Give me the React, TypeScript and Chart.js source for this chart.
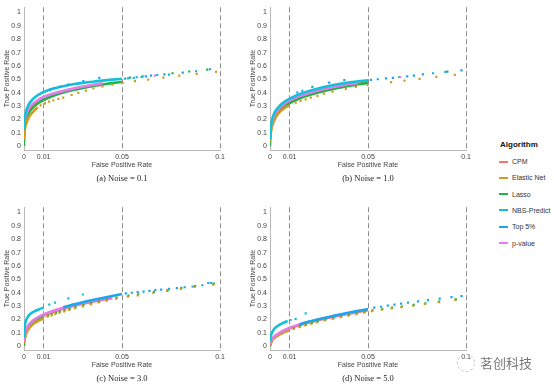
import React, { useEffect, useRef } from "react";
import { Chart, registerables } from "chart.js";
Chart.register(...registerables);

type P = [number, number][];

const ALGORITHMS = ["CPM", "Elastic Net", "Lasso", "NBS-Predict", "Top 5%", "p-value"];
const COLORS = ["#F8766D", "#D19C1D", "#1FB34A", "#13C1D6", "#1BA6F2", "#E47BEA"];
const X_TICKS = [0, 0.01, 0.05, 0.1];
const Y_TICKS = [0, 0.1, 0.2, 0.3, 0.4, 0.5, 0.6, 0.7, 0.8, 0.9, 1];
const CAPTIONS = ["(a) Noise = 0.1", "(b) Noise = 1.0", "(c) Noise = 3.0", "(d) Noise = 5.0"];
const X_TITLE = "False Positive Rate";
const Y_TITLE = "True Positive Rate";
const LEGEND_TITLE = "Algorithm";
const WATERMARK = "茗创科技";

// ---------- Panel (a) Noise = 0.1 ----------
const a_cpm_line: P = [[0,0.1],[0.0005,0.18],[0.001,0.215],[0.002,0.255],[0.003,0.28],[0.005,0.312],[0.0075,0.338],[0.01,0.357],[0.015,0.384],[0.02,0.404],[0.025,0.422],[0.03,0.437],[0.035,0.45],[0.04,0.461]];
const a_en_line: P = [[0,0.05],[0.0005,0.13],[0.001,0.16],[0.002,0.2],[0.003,0.228],[0.005,0.262],[0.007,0.29]];
const a_en_dots: P = [[0.0085,0.305],[0.0107,0.32],[0.0128,0.332],[0.015,0.342],[0.0175,0.352],[0.02,0.362],[0.0243,0.382],[0.0277,0.398],[0.0316,0.415],[0.0354,0.432],[0.04,0.447],[0.045,0.46],[0.0503,0.473],[0.0566,0.486],[0.0634,0.498],[0.0711,0.513],[0.0792,0.527],[0.0881,0.54],[0.098,0.555]];
const a_lasso_line: P = [[0,0],[0,0.03],[0.0002,0.1],[0.0005,0.15],[0.001,0.19],[0.002,0.233],[0.003,0.26],[0.005,0.295],[0.0075,0.324],[0.01,0.345],[0.015,0.376],[0.02,0.4],[0.025,0.419],[0.03,0.435],[0.035,0.449],[0.04,0.461],[0.045,0.471],[0.05,0.48]];
const a_lasso_dots: P = [[0.054,0.512],[0.0605,0.522],[0.0758,0.545],[0.0843,0.558],[0.0935,0.572]];
const a_nbs_line: P = [[0,0.12],[0.0003,0.2],[0.001,0.26],[0.002,0.3],[0.003,0.325],[0.005,0.358],[0.0075,0.385],[0.01,0.405],[0.015,0.43],[0.02,0.448],[0.025,0.462],[0.03,0.473],[0.035,0.482],[0.04,0.49],[0.045,0.497],[0.05,0.503]];
const a_nbs_dots: P = [[0.053,0.507],[0.056,0.511],[0.06,0.516],[0.074,0.535]];
const a_top5_line: P = [];
const a_top5_dots: P = [[0.0132,0.42],[0.0155,0.433],[0.0184,0.445],[0.0226,0.46],[0.0303,0.486],[0.0384,0.511],[0.0515,0.505],[0.0575,0.515],[0.0622,0.522],[0.0648,0.527],[0.068,0.532],[0.0716,0.537],[0.081,0.55],[0.0878,0.56],[0.0949,0.575]];
const a_pval_line: P = [[0,0.13],[0.0005,0.2],[0.001,0.232],[0.002,0.268],[0.003,0.292],[0.005,0.323],[0.0075,0.348],[0.01,0.367],[0.015,0.393],[0.02,0.413],[0.025,0.43],[0.03,0.445],[0.035,0.458],[0.04,0.469]];
const a_pval_dots: P = [[0.0668,0.527]];

// ---------- Panel (b) Noise = 1.0 ----------
const b_cpm_line: P = [[0,0.06],[0.0005,0.14],[0.001,0.175],[0.002,0.215],[0.003,0.243],[0.005,0.28],[0.0075,0.31],[0.01,0.332],[0.015,0.364],[0.02,0.39],[0.025,0.41],[0.03,0.427],[0.035,0.442],[0.04,0.455],[0.045,0.467],[0.05,0.478]];
const b_en_line: P = [[0,0.03],[0.0005,0.11],[0.001,0.145],[0.002,0.185],[0.003,0.215],[0.005,0.255],[0.0075,0.285],[0.01,0.305]];
const b_en_dots: P = [[0.0131,0.325],[0.0156,0.338],[0.0182,0.35],[0.0208,0.362],[0.0242,0.376],[0.0276,0.392],[0.0319,0.408],[0.0387,0.428],[0.0438,0.442],[0.0498,0.455],[0.0618,0.478],[0.0686,0.49],[0.0763,0.503],[0.0849,0.518],[0.0943,0.533]];
const b_lasso_line: P = [[0,0],[0,0.04],[0.0003,0.1],[0.001,0.155],[0.002,0.2],[0.003,0.23],[0.005,0.268],[0.0075,0.3],[0.01,0.322],[0.015,0.356],[0.02,0.382],[0.025,0.403],[0.03,0.42],[0.035,0.436],[0.04,0.45],[0.045,0.462],[0.05,0.473]];
const b_lasso_dots: P = [[0.066,0.517],[0.0905,0.557]];
const b_nbs_line: P = [[0,0.05],[0.0003,0.13],[0.001,0.195],[0.002,0.24],[0.003,0.268],[0.005,0.303],[0.0075,0.333],[0.01,0.355],[0.015,0.388],[0.02,0.413],[0.025,0.433],[0.03,0.45],[0.035,0.464],[0.04,0.476],[0.045,0.485],[0.05,0.493]];
const b_nbs_dots: P = [];
const b_top5_line: P = [];
const b_top5_dots: P = [[0.0139,0.401],[0.0165,0.414],[0.0216,0.443],[0.0302,0.475],[0.0379,0.493],[0.0515,0.496],[0.055,0.5],[0.0592,0.506],[0.0627,0.511],[0.07,0.521],[0.0734,0.528],[0.078,0.537],[0.0832,0.545],[0.0895,0.555],[0.0977,0.567]];
const b_pval_line: P = [[0,0.08],[0.0005,0.15],[0.001,0.183],[0.002,0.222],[0.003,0.25],[0.005,0.287],[0.0075,0.317],[0.01,0.34],[0.015,0.372],[0.02,0.397],[0.025,0.417],[0.03,0.434],[0.035,0.449],[0.04,0.462],[0.045,0.473]];
const b_pval_dots: P = [[0.0665,0.515]];

// ---------- Panel (c) Noise = 3.0 ----------
const c_cpm_line: P = [[0,0.03],[0.0005,0.08],[0.001,0.11],[0.002,0.14],[0.003,0.16],[0.005,0.187],[0.0075,0.21],[0.01,0.228],[0.015,0.257],[0.02,0.28],[0.025,0.3],[0.03,0.317],[0.035,0.332],[0.04,0.346],[0.045,0.358]];
const c_en_line: P = [[0,0.02],[0.0005,0.06],[0.001,0.09],[0.002,0.12],[0.003,0.14],[0.005,0.168],[0.0075,0.19],[0.01,0.208]];
const c_en_dots: P = [[0.012,0.22],[0.014,0.23],[0.016,0.24],[0.018,0.25],[0.0205,0.26],[0.023,0.27],[0.026,0.283],[0.03,0.297],[0.034,0.312],[0.038,0.326],[0.042,0.34],[0.047,0.355],[0.053,0.37],[0.058,0.38],[0.066,0.398],[0.073,0.412],[0.08,0.428],[0.087,0.442],[0.0965,0.46]];
const c_lasso_line: P = [[0,0],[0,0.04],[0.0005,0.07],[0.001,0.1],[0.002,0.13],[0.003,0.152],[0.005,0.18],[0.0075,0.203],[0.01,0.222]];
const c_lasso_dots: P = [[0.0123,0.228],[0.0143,0.238],[0.0163,0.248],[0.0183,0.258],[0.0208,0.268],[0.0233,0.278],[0.0263,0.29],[0.0303,0.305],[0.0343,0.32],[0.0383,0.333],[0.0423,0.347],[0.0473,0.362],[0.0533,0.377],[0.0583,0.387],[0.0663,0.405],[0.0733,0.418],[0.0803,0.435],[0.0873,0.448],[0.0968,0.468]];
const c_nbs_line: P = [[0,0.06],[0.0003,0.14],[0.001,0.19],[0.002,0.22],[0.003,0.238],[0.005,0.258],[0.0075,0.274],[0.01,0.287]];
const c_nbs_dots: P = [[0.0129,0.31],[0.0158,0.325],[0.0226,0.357],[0.03,0.386]];
const c_top5_line: P = [[0.02,0.29],[0.025,0.31],[0.03,0.328],[0.035,0.345],[0.04,0.36],[0.045,0.375],[0.05,0.39]];
const c_top5_dots: P = [[0.052,0.394],[0.055,0.399],[0.058,0.404],[0.061,0.408],[0.064,0.413],[0.067,0.418],[0.07,0.423],[0.074,0.428],[0.078,0.434],[0.082,0.44],[0.086,0.446],[0.091,0.455],[0.094,0.472],[0.0955,0.472]];
const c_pval_line: P = [[0,0.04],[0.0005,0.09],[0.001,0.12],[0.002,0.15],[0.003,0.17],[0.005,0.196],[0.0075,0.218],[0.01,0.236],[0.015,0.264],[0.02,0.287],[0.025,0.306],[0.03,0.323],[0.035,0.338],[0.04,0.352],[0.045,0.364]];
const c_pval_dots: P = [];

// ---------- Panel (d) Noise = 5.0 ----------
const d_cpm_line: P = [[0,0.01],[0.001,0.045],[0.002,0.065],[0.005,0.095],[0.0075,0.115],[0.01,0.132],[0.015,0.157],[0.02,0.177],[0.025,0.195],[0.03,0.211],[0.035,0.226],[0.04,0.241],[0.045,0.255],[0.05,0.268]];
const d_en_line: P = [[0,0.005],[0.001,0.04],[0.002,0.058],[0.005,0.088],[0.0075,0.105],[0.01,0.12]];
const d_en_dots: P = [[0.012,0.128],[0.015,0.142],[0.018,0.155],[0.021,0.167],[0.024,0.178],[0.028,0.192],[0.032,0.204],[0.036,0.216],[0.04,0.228],[0.044,0.239],[0.048,0.25],[0.052,0.262],[0.057,0.272],[0.062,0.282],[0.067,0.291],[0.073,0.303],[0.079,0.315],[0.086,0.328],[0.0945,0.345]];
const d_lasso_line: P = [[0,0],[0.001,0.045],[0.002,0.063],[0.005,0.093],[0.0075,0.11],[0.01,0.125]];
const d_lasso_dots: P = [[0.0123,0.133],[0.0153,0.147],[0.0183,0.16],[0.0213,0.172],[0.0243,0.183],[0.0283,0.197],[0.0323,0.209],[0.0363,0.221],[0.0403,0.233],[0.0443,0.244],[0.0483,0.255],[0.0523,0.267],[0.0573,0.277],[0.0623,0.287],[0.0673,0.296],[0.0733,0.308],[0.0793,0.32],[0.0863,0.333],[0.0948,0.35]];
const d_nbs_line: P = [[0,0.03],[0.0003,0.07],[0.001,0.1],[0.002,0.125],[0.003,0.14],[0.005,0.16],[0.0075,0.178],[0.009,0.188]];
const d_nbs_dots: P = [[0.0105,0.195],[0.0131,0.203],[0.0182,0.244]];
const d_top5_line: P = [[0.015,0.162],[0.02,0.183],[0.025,0.201],[0.03,0.218],[0.035,0.234],[0.04,0.249],[0.045,0.263],[0.05,0.277]];
const d_top5_dots: P = [[0.0532,0.287],[0.0567,0.294],[0.0601,0.302],[0.0635,0.31],[0.0669,0.317],[0.0704,0.325],[0.0755,0.335],[0.0806,0.344],[0.0866,0.355],[0.0926,0.366],[0.0977,0.373]];
const d_pval_line: P = [[0,0.015],[0.001,0.05],[0.002,0.07],[0.005,0.1],[0.0075,0.12],[0.01,0.137],[0.015,0.162],[0.02,0.182],[0.025,0.2],[0.03,0.216],[0.035,0.231],[0.04,0.246],[0.045,0.26]];
const d_pval_dots: P = [];

// index order follows ALGORITHMS
const PANEL_LINES: P[][] = [
  [a_cpm_line, a_en_line, a_lasso_line, a_nbs_line, a_top5_line, a_pval_line],
  [b_cpm_line, b_en_line, b_lasso_line, b_nbs_line, b_top5_line, b_pval_line],
  [c_cpm_line, c_en_line, c_lasso_line, c_nbs_line, c_top5_line, c_pval_line],
  [d_cpm_line, d_en_line, d_lasso_line, d_nbs_line, d_top5_line, d_pval_line],
];
const PANEL_DOTS: P[][] = [
  [[], a_en_dots, a_lasso_dots, a_nbs_dots, a_top5_dots, a_pval_dots],
  [[], b_en_dots, b_lasso_dots, b_nbs_dots, b_top5_dots, b_pval_dots],
  [[], c_en_dots, c_lasso_dots, c_nbs_dots, c_top5_dots, c_pval_dots],
  [[], d_en_dots, d_lasso_dots, d_nbs_dots, d_top5_dots, d_pval_dots],
];

// drawing order bottom -> top (indices into ALGORITHMS)
const LINE_ORDER = [0, 2, 1, 5, 4, 3];
const DOT_ORDER = [2, 1, 5, 3, 4];

const FONT = "'Liberation Sans', Arial, sans-serif";
const SERIF = "'Liberation Serif', 'Times New Roman', serif";
const PANEL_POS = [
  { left: 0, top: 0 },
  { left: 246, top: 0 },
  { left: 0, top: 200 },
  { left: 246, top: 200 },
];
const CW = 246;
const CH = 190;

function fmt(v: number) {
  return String(Math.round(v * 1000) / 1000);
}

function Panel({ index }: { index: number }) {
  const ref = useRef<HTMLCanvasElement>(null);
  useEffect(() => {
    if (!ref.current) return;
    const layers: any[] = [];
    LINE_ORDER.forEach((k) => {
      const pts = PANEL_LINES[index][k];
      if (!pts.length) return;
      layers.push({
        label: ALGORITHMS[k],
        data: pts.map(([x, y]) => ({ x, y })),
        showLine: true,
        borderColor: COLORS[k],
        backgroundColor: COLORS[k],
        borderWidth: 2.6,
        pointRadius: 0,
        tension: 0.2,
        fill: false,
      });
    });
    DOT_ORDER.forEach((k) => {
      const pts = PANEL_DOTS[index][k];
      if (!pts.length) return;
      layers.push({
        label: ALGORITHMS[k],
        data: pts.map(([x, y]) => ({ x, y })),
        showLine: false,
        backgroundColor: COLORS[k],
        borderColor: COLORS[k],
        borderWidth: 0,
        pointStyle: "rect",
        pointRadius: 1.55,
      });
    });
    const n = layers.length;
    layers.forEach((d, i) => (d.order = n - i));

    const tickFont = { family: FONT, size: 7 };
    const titleFont = { family: FONT, size: 7, lineHeight: 1.2 };
    const chart = new Chart(ref.current, {
      type: "scatter",
      data: { datasets: layers },
      options: {
        animation: false,
        responsive: false,
        maintainAspectRatio: false,
        layout: { padding: { left: 0, right: 26, top: 5, bottom: 21 }, autoPadding: false } as any,
        plugins: { legend: { display: false }, tooltip: { enabled: false } },
        scales: {
          x: {
            type: "linear",
            min: 0,
            max: 0.1,
            afterBuildTicks: (ax: any) => {
              ax.ticks = X_TICKS.map((v) => ({ value: v }));
            },
            afterFit: (ax: any) => {
              ax.height = 19;
            },
            ticks: {
              font: tickFont,
              color: "#444",
              padding: 3,
              maxRotation: 0,
              autoSkip: false,
              callback: (v: any) => fmt(Number(v)),
            },
            grid: {
              color: (c: any) => (c.tick && c.tick.value === 0 ? "rgba(0,0,0,0)" : "#8c8c8c"),
              lineWidth: 1,
              drawTicks: false,
            },
            border: { display: true, color: "#b8b8b8", width: 1, dash: [5, 3] },
            title: {
              display: true,
              text: X_TITLE,
              font: titleFont,
              color: "#444",
              padding: { top: 0, bottom: 0 },
            },
          } as any,
          y: {
            type: "linear",
            min: -0.03,
            max: 1.04,
            afterBuildTicks: (ax: any) => {
              ax.ticks = Y_TICKS.map((v) => ({ value: v }));
            },
            afterFit: (ax: any) => {
              ax.width = 24;
            },
            ticks: {
              font: tickFont,
              color: "#444",
              padding: 3,
              autoSkip: false,
              callback: (v: any) => fmt(Number(v)),
            },
            grid: { display: false, drawTicks: false },
            border: { display: true, color: "#b8b8b8", width: 1 },
            title: {
              display: true,
              text: Y_TITLE,
              font: titleFont,
              color: "#444",
              padding: { top: 2.5, bottom: 0 },
            },
          } as any,
        },
      },
    });
    return () => chart.destroy();
  }, [index]);
  const pos = PANEL_POS[index];
  return (
    <>
      <canvas
        ref={ref}
        width={CW}
        height={CH}
        style={{ position: "absolute", left: pos.left, top: pos.top, width: CW, height: CH }}
      />
      <div
        style={{
          position: "absolute",
          left: pos.left + 122 - 100,
          top: pos.top + 173,
          width: 200,
          textAlign: "center",
          fontFamily: SERIF,
          fontSize: 8.5,
          lineHeight: "10px",
          color: "#222",
        }}
      >
        {CAPTIONS[index]}
      </div>
    </>
  );
}

export default function App() {
  return (
    <div
      style={{
        position: "fixed",
        left: 0,
        top: 0,
        width: 554,
        height: 387,
        background: "#fff",
        overflow: "hidden",
      }}
    >
      {[0, 1, 2, 3].map((i) => (
        <Panel key={i} index={i} />
      ))}
      <div
        style={{
          position: "absolute",
          left: 500,
          top: 139,
          fontFamily: FONT,
          fontWeight: "bold",
          fontSize: 8,
          lineHeight: "12px",
          color: "#111",
        }}
      >
        {LEGEND_TITLE}
      </div>
      {ALGORITHMS.map((name, i) => (
        <div
          key={name}
          style={{ position: "absolute", left: 499, top: 156 + i * 16.3, height: 11, display: "flex", alignItems: "center" }}
        >
          <div style={{ width: 9, height: 2, background: COLORS[i], marginRight: 4 }} />
          <div style={{ fontFamily: FONT, fontSize: 7, lineHeight: "11px", color: "#333", whiteSpace: "nowrap" }}>{name}</div>
        </div>
      ))}
      <div
        style={{
          position: "absolute",
          left: 457,
          top: 354,
          width: 16,
          height: 16,
          borderRadius: "50%",
          border: "1px dashed #c4c4c4",
        }}
      />
      <div
        style={{
          position: "absolute",
          left: 480,
          top: 355,
          fontFamily: "'Noto Sans CJK SC', sans-serif",
          fontSize: 13,
          lineHeight: "16px",
          color: "#777",
          whiteSpace: "nowrap",
        }}
      >
        {WATERMARK}
      </div>
    </div>
  );
}
